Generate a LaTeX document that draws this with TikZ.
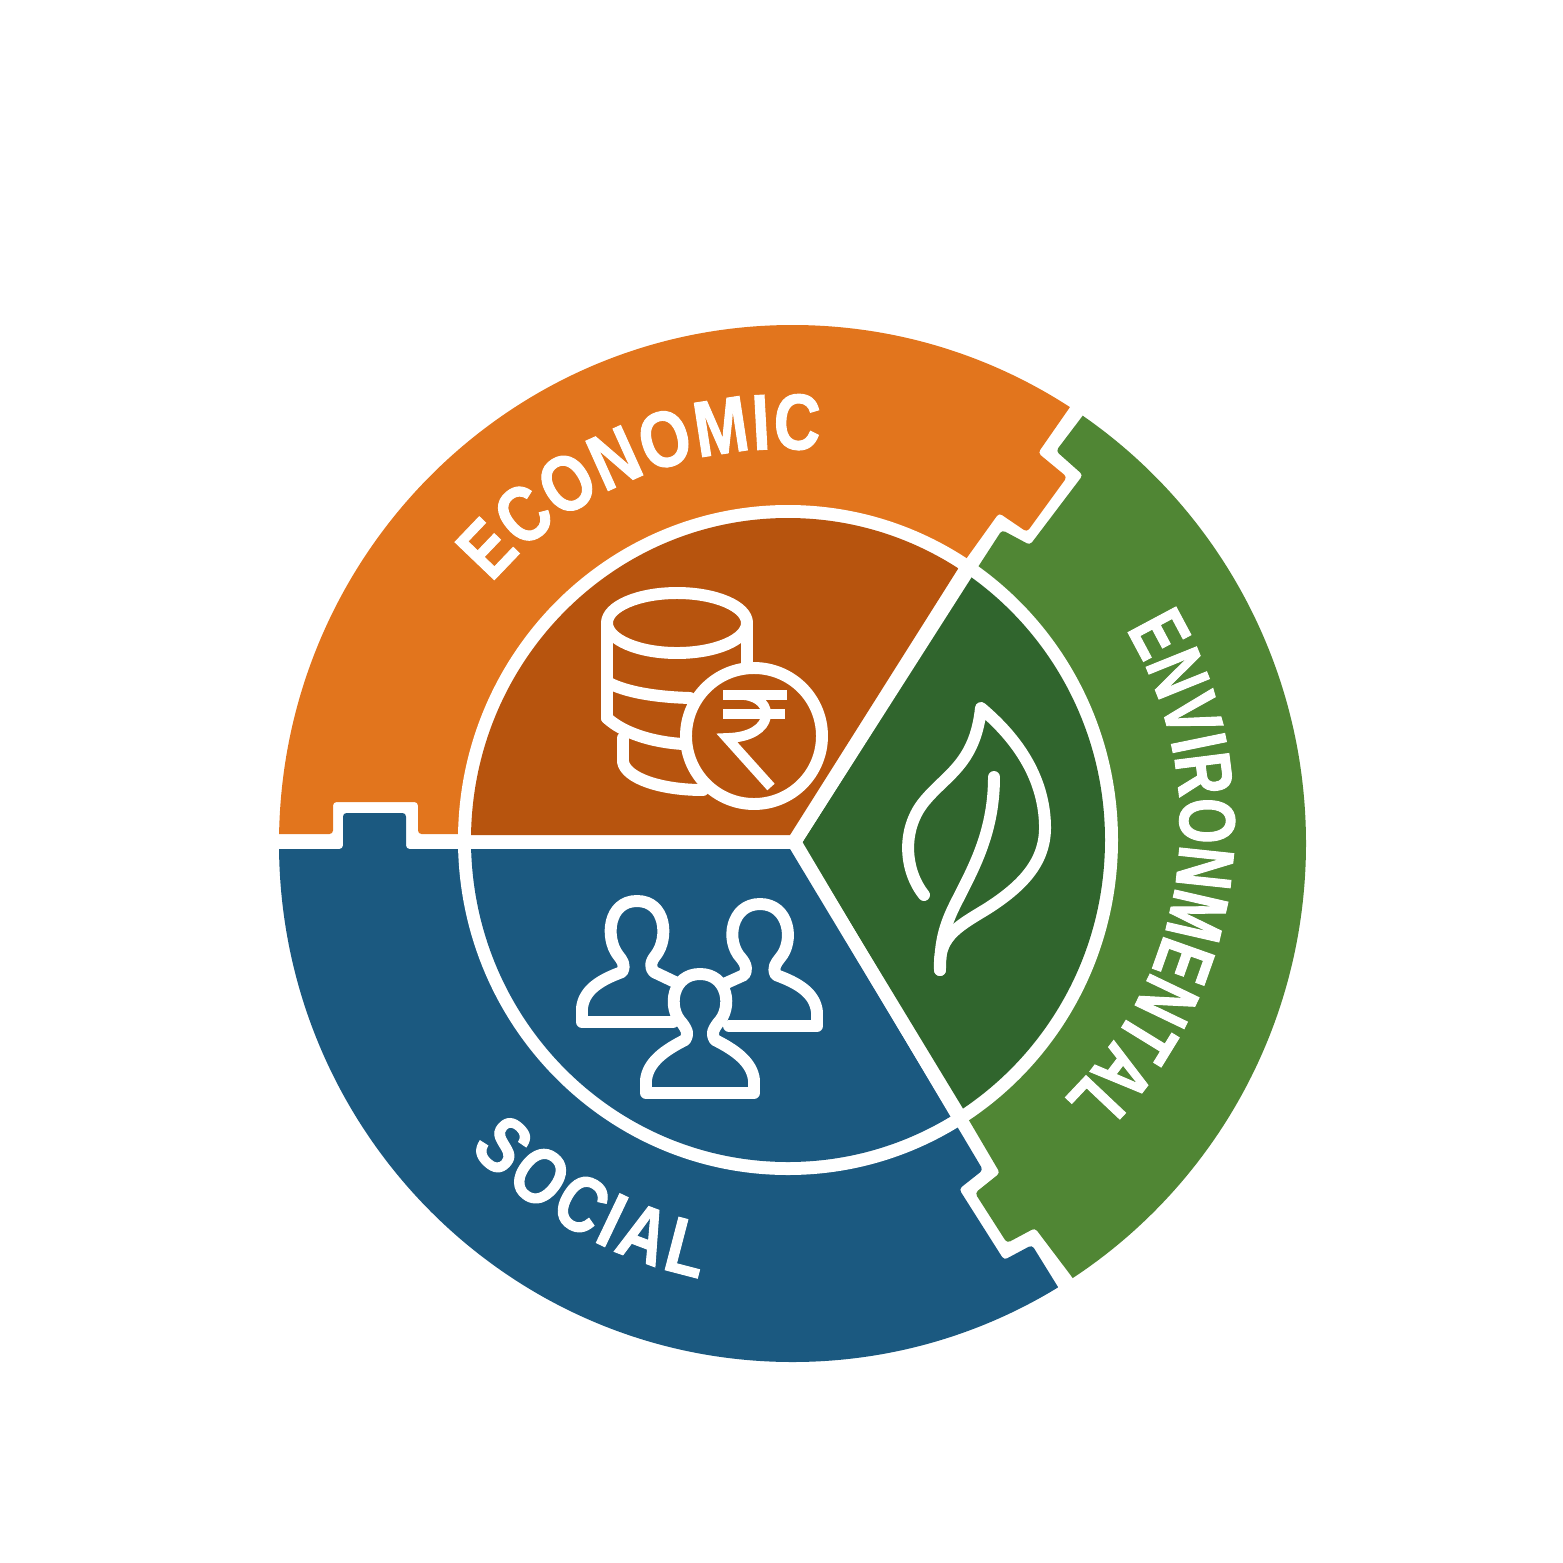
\documentclass[tikz,border=0pt]{standalone}
\usepackage{fontspec}
\usetikzlibrary{decorations.text}
\newfontfamily\bandfont[FakeStretch=0.82, FakeBold=1.2]{Liberation Sans}
\newfontfamily\longbandfont[FakeStretch=0.74, FakeBold=1.2]{Liberation Sans}
\newcommand{\bandtext}{\bandfont\bfseries\fontsize{22.5}{27}\selectfont\color{white}}
\newcommand{\longbandtext}{\longbandfont\bfseries\fontsize{22.5}{27}\selectfont\color{white}}
\definecolor{econband}{RGB}{226,117,29}
\definecolor{econcore}{RGB}{183,84,14}
\definecolor{envband}{RGB}{80,134,52}
\definecolor{envcore}{RGB}{48,101,45}
\definecolor{socband}{RGB}{27,89,128}

\begin{document}
\begin{tikzpicture}[x=0.01cm, y=0.01cm,
                    iconline/.style={draw=white, line width=3.4pt, line cap=round, line join=round},
                    rupeeline/.style={draw=white, line width=2.8pt},
                    spoke/.style={draw=white, line width=3.6pt},
                    piece/.style={rounded corners=1pt}]
    \useasboundingbox (0,0) rectangle (1563,-1563);
    \coordinate (econmid) at (783,-832);
    \coordinate (envmid) at (800,-825);
    \coordinate (socmid) at (792,-843);

    \begin{scope}[yscale=-1]
        % outer band
        \begin{scope}
            \clip (792.5,843.5) ellipse [x radius=513.5, y radius=518.5];
            \fill [econband, piece] (200,834) -- (333,834) -- (333,802) -- (418,802) -- (418,834) -- (800,834)
                -- (966,559) -- (999,513) -- (1027,532) -- (1067,477) -- (1038,453) -- (1070,407)
                -- (1102,361) -- (1102,200) -- (200,200) -- cycle;
            \fill [envband, piece] (1114,370) -- (1084,414) -- (1056,451) -- (1083,475) -- (1030,545) -- (1002,530)
                -- (978,567) -- (800,843) -- (970,1122) -- (1000,1173) -- (975,1193) -- (1007,1243)
                -- (1035,1228) -- (1072,1277) -- (1100,1320) -- (1400,1320) -- (1400,370) -- cycle;
            \fill [socband, piece] (200,849) -- (343,849) -- (343,813) -- (406,813) -- (406,849) -- (790,849)
                -- (958,1128) -- (983,1170) -- (959,1189) -- (1004,1260) -- (1032,1245) -- (1058,1287)
                -- (1090,1340) -- (1090,1400) -- (200,1400) -- cycle;
        \end{scope}

        % inner disk
        \fill [white] (788,840) ellipse [x radius=330, y radius=335];
        \begin{scope}
            \clip (788,840) ellipse [x radius=317, y radius=322];
            \fill [econcore] (450,835) -- (790,835) -- (968,553) -- (968,480) -- (450,480) -- cycle;
            \fill [envcore] (802,843) -- (980,562) -- (1130,562) -- (1130,1130) -- (973,1125) -- cycle;
            \fill [socband] (450,849) -- (790,849) -- (958,1128) -- (958,1200) -- (450,1200) -- cycle;
        \end{scope}

        % coins
        \draw [iconline] (677,623) ellipse [x radius=70, y radius=30];
        \draw [iconline] (607,623) -- (607,718);
        \draw [iconline] (747,623) -- (747,664);
        \draw [iconline] (607,682) .. controls (625,692) and (655,697) .. (690,698);
        \draw [iconline] (607,718) .. controls (622,732) and (650,742) .. (683,744);
        \draw [iconline] (623,738) -- (623,762) .. controls (626,778) and (660,790) .. (703,790);
        \draw [iconline, fill=econcore] (754,736) circle [radius=68];
        \draw [rupeeline] (723,695) -- (787,695);
        \draw [rupeeline] (723,714) -- (785,714);
        \draw [rupeeline] (744,695) .. controls (776,698) and (776,737) .. (727,738) -- (771,787);

        % leaf
        \draw [iconline] (924,895) .. controls (904,870) and (902,830) .. (923,803)
            .. controls (945,775) and (975,765) .. (981,708)
            .. controls (1025,745) and (1044,785) .. (1045,825)
            .. controls (1046,860) and (1025,885) .. (985,910)
            .. controls (955,928) and (938,938) .. (940,970);
        \draw [iconline] (994,777) .. controls (994,830) and (975,865) .. (960,895) .. controls (948,918) and (940,935) .. (940,970);

        % people
        \draw [iconline] (673,1022) -- (582,1022) -- (582,1008) .. controls (584,990) and (600,980) .. (622,972)
            .. controls (626,965) and (622,960) .. (618,955) .. controls (605,938) and (608,901) .. (637,901)
            .. controls (666,901) and (669,938) .. (656,955) .. controls (650,962) and (650,968) .. (654,972) -- (675,982);
        \draw [iconline] (729,1026) -- (817,1026) -- (817,1012) .. controls (815,993) and (798,983) .. (776,975)
            .. controls (772,968) and (776,963) .. (780,958) .. controls (795,941) and (789,904) .. (760,904)
            .. controls (731,904) and (725,941) .. (741,958) .. controls (747,965) and (747,971) .. (744,975) -- (724,984);
        \draw [iconline] (646,1093) -- (754,1093) -- (754,1080) .. controls (752,1062) and (735,1050) .. (715,1040)
            .. controls (711,1033) and (713,1030) .. (718,1023) .. controls (733,1008) and (728,974) .. (700,974)
            .. controls (672,974) and (667,1008) .. (682,1023) .. controls (687,1030) and (689,1033) .. (685,1040)
            .. controls (665,1050) and (648,1062) .. (646,1080) -- cycle;

        % spokes
        \draw [spoke] (462,842) -- (795,842);
        \draw [spoke] (795,842) -- (968,571);
        \draw [spoke] (795,842) -- (960,1120);
    \end{scope}

    % band labels
    \path [decorate, decoration={text along path, text align=fit to path, text={|\bandtext|ECONOMIC}}]
        ([shift=(139.5:383)]econmid) arc [start angle=139.5, end angle=84.5, radius=383];
    \path [decorate, decoration={text along path, text align=fit to path, text={|\longbandtext|ENVIRONMENTAL}}]
        ([shift=(31:380)]envmid) arc [start angle=31, end angle=-45.5, radius=380];
    \path [decorate, decoration={text along path, text align=fit to path, text={|\bandtext|SOCIAL}}]
        ([shift=(223.5:445)]socmid) arc [start angle=223.5, end angle=258, radius=445];
\end{tikzpicture}
\end{document}
